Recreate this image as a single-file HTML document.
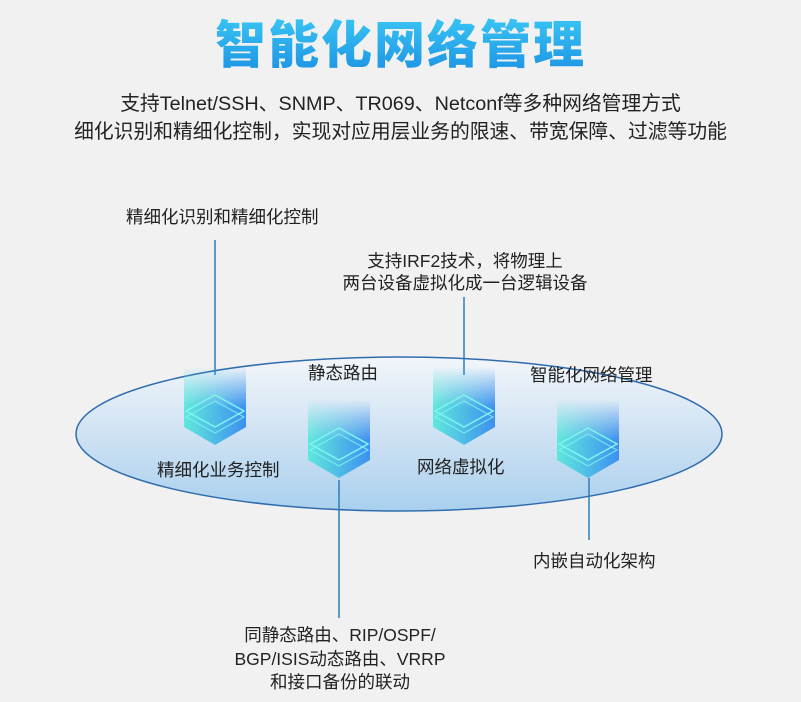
<!DOCTYPE html>
<html><head><meta charset="utf-8"><style>
html,body{margin:0;padding:0;}
body{width:801px;height:702px;background:#f1f1f1;position:relative;overflow:hidden;font-family:"Liberation Sans","Noto Sans CJK SC",sans-serif;color:#222;}
.t{position:absolute;white-space:nowrap;}
.title{left:0;width:801px;text-align:center;top:4px;font-size:51px;font-weight:900;letter-spacing:2px;background:linear-gradient(180deg,#3fd0f7,#1a8fe3);-webkit-background-clip:text;background-clip:text;color:transparent;font-family:"Noto Sans CJK SC",sans-serif;}
.sub{left:0;width:801px;text-align:center;font-size:19.8px;color:#222;}
.lb{font-size:17.5px;color:#222;}
.c{text-align:center;}
</style></head><body>
<div class="t title">智能化网络管理</div>
<div class="t sub" style="top:87px">支持Telnet/SSH、SNMP、TR069、Netconf等多种网络管理方式</div>
<div class="t sub" style="top:115px">细化识别和精细化控制，实现对应用层业务的限速、带宽保障、过滤等功能</div>

<svg width="801" height="702" style="position:absolute;left:0;top:0">
<defs>
<linearGradient id="eg" x1="0" y1="0" x2="0" y2="1">
<stop offset="0" stop-color="#f2f6fa"/><stop offset="0.5" stop-color="#cfe2f3"/><stop offset="1" stop-color="#a9d0ee"/>
</linearGradient>
<linearGradient id="bg" x1="0" y1="0" x2="1" y2="0">
<stop offset="0" stop-color="#5fe8dc"/><stop offset="1" stop-color="#3d8ff0"/>
</linearGradient>
<linearGradient id="fade" x1="0" y1="0" x2="0" y2="1">
<stop offset="0" stop-color="#fff" stop-opacity="0"/><stop offset="0.5" stop-color="#fff" stop-opacity="1"/>
</linearGradient>
<mask id="m"><rect x="0" y="0" width="62" height="80" fill="url(#fade)"/></mask>
<g id="ic">
<path d="M0 0 H62 V60 L31 78 L0 60 Z" fill="url(#bg)" mask="url(#m)"/>
<path d="M31 28 L60 44 L31 60 L2 44 Z" fill="none" stroke="#7ff5ee" stroke-width="1.5"/>
<path d="M31 34 L60 50 L31 66 L2 50 Z" fill="none" stroke="#7ff5ee" stroke-width="1.2" opacity="0.8"/>
</g>
</defs>
<ellipse cx="399" cy="434" rx="323" ry="77" fill="url(#eg)" stroke="#2f6cae" stroke-width="1.5"/>
<g stroke="#2a7fb8" stroke-width="1.5">
<line x1="215" y1="240" x2="215" y2="375"/>
<line x1="464" y1="297" x2="464" y2="375"/>
<line x1="339" y1="480" x2="339" y2="618"/>
<line x1="589" y1="478" x2="589" y2="540"/>
</g>
<use href="#ic" x="184" y="367"/>
<use href="#ic" x="308" y="400"/>
<use href="#ic" x="433" y="367"/>
<use href="#ic" x="557" y="400"/>
</svg>

<div class="t lb" style="left:126px;top:204px">精细化识别和精细化控制</div>
<div class="t lb c" style="left:300px;width:330px;top:250px;line-height:22px">支持IRF2技术，将物理上<br>两台设备虚拟化成一台逻辑设备</div>
<div class="t lb" style="left:308px;top:360px">静态路由</div>
<div class="t lb" style="left:530px;top:362px">智能化网络管理</div>
<div class="t lb" style="left:157px;top:457px">精细化业务控制</div>
<div class="t lb" style="left:417px;top:454px">网络虚拟化</div>
<div class="t lb" style="left:533px;top:548px">内嵌自动化架构</div>
<div class="t lb c" style="left:190px;width:300px;top:624px;line-height:23.5px">同静态路由、RIP/OSPF/<br>BGP/ISIS动态路由、VRRP<br>和接口备份的联动</div>
</body></html>
